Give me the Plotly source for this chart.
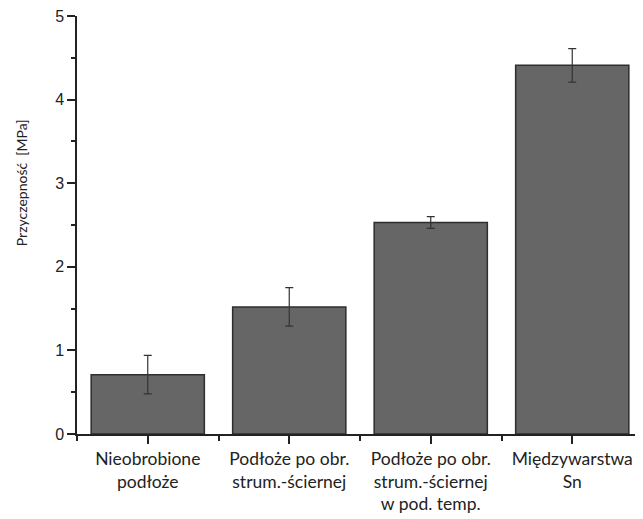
import plotly.graph_objects as go

categories = ["Nieobrobione<br>podłoże",
              "Podłoże po obr.<br>strum.-ściernej",
              "Podłoże po obr.<br>strum.-ściernej<br>w pod. temp.",
              "Międzywarstwa<br>Sn"]
values = [0.71, 1.52, 2.53, 4.41]
errors = [0.23, 0.23, 0.07, 0.20]
y_ticks = [0, 1, 2, 3, 4, 5]

xpos = list(range(len(categories)))

fig = go.Figure(go.Bar(
    x=xpos, y=values, width=0.8,
    marker=dict(color="#666666", line=dict(color="#2e2e2e", width=1.5)),
    error_y=dict(type="data", array=errors, visible=True,
                 color="#333333", thickness=1.2, width=4),
))

fig.update_layout(
    width=635, height=511,
    margin=dict(l=69, r=0, t=8, b=85),
    paper_bgcolor="white", plot_bgcolor="white",
    showlegend=False,
    xaxis=dict(
        range=[-0.5, 3.5], tickmode="array", tickvals=xpos, ticktext=categories,
        ticks="outside", ticklen=8, tickwidth=1.5, tickcolor="#222",
        showline=True, linecolor="#222", linewidth=1.5,
        showgrid=False, zeroline=False, ticklabeloverflow="allow",
        tickfont=dict(family="Lato, Open Sans, sans-serif", size=17.5, color="#222"),
        minor=dict(tickvals=[-0.5, 0.5, 1.5, 2.5, 3.5], ticks="outside",
                   ticklen=5, tickwidth=1.5, tickcolor="#222"),
    ),
    yaxis=dict(
        range=[0, 5], tickmode="array", tickvals=y_ticks,
        ticks="outside", ticklen=8, tickwidth=1.5, tickcolor="#222",
        showline=True, linecolor="#222", linewidth=1.5,
        showgrid=False, zeroline=False, automargin=False,
        ticklabeloverflow="allow",
        tickfont=dict(family="Liberation Sans, Arial, sans-serif", size=16, color="#222"),
        minor=dict(tickvals=[0.5, 1.5, 2.5, 3.5, 4.5], ticks="outside",
                   ticklen=4, tickwidth=1.5, tickcolor="#222"),
    ),
    annotations=[dict(
        text="Przyczepność  [MPa]", textangle=-90,
        xref="paper", x=0, xanchor="center", xshift=-56,
        yref="y", y=3, yanchor="middle", showarrow=False,
        font=dict(family="Lato, sans-serif", size=14, color="#222"),
    )],
)

fig.write_html("out.html")
